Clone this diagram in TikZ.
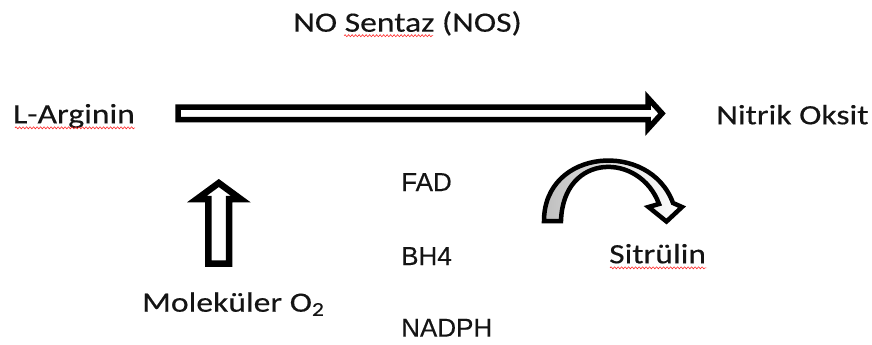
\documentclass[tikz,border=0pt]{standalone}
\usepackage{fontspec}
\newfontfamily\calfont[FakeStretch=1.2,FakeBold=0.35]{Carlito}
\newfontfamily\arfont[FakeBold=0.2]{Liberation Sans}
\usetikzlibrary{calc,decorations.pathmorphing}
\begin{document}
\begin{tikzpicture}[x=1pt,y=-1pt,
 lbl/.style={anchor=base west, inner sep=0pt, text=black!92, font=\calfont\fontsize{28}{32}\selectfont},
 cof/.style={anchor=base west, inner sep=0pt, text=black!92, font=\arfont\fontsize{26}{30}\selectfont},
 spell/.style={draw=red!85, line width=0.6pt, decorate, decoration={snake, amplitude=1pt, segment length=3.5pt}},
 blockarrow/.style={draw=black, fill=white, line join=miter, miter limit=10}]
\useasboundingbox (0,0) rectangle (872,345);

% texts
\node[lbl] (nos) at (293,31.7) {NO Sentaz (NOS)};
\node[lbl] (arg) at (13,123.3) {L-Arginin};
\node[lbl] (no) at (716,124.3) {Nitrik Oksit};
\node[cof] (fad) at (401,191) {FAD};
\node[cof] (bh4) at (401,265) {BH4};
\node[cof] (nadph) at (401,336.7) {NADPH};
\node[lbl] (o2) at (142,311.7) {Moleküler O\textsubscript{2}};
\node[lbl] (cit) at (609,263.3) {Sitrülin};

% spell-check underlines
\draw[spell] ($(nos.base west)+(51,4)$) -- ($(nos.base west)+(140,4)$);
\draw[spell] ($(arg.base west)+(2,4.5)$) -- ($(arg.base east)+(0,4.5)$);
\draw[spell] ($(cit.base west)+(1,4.5)$) -- ($(cit.base east)+(0,4.5)$);

% main block arrow
\draw[blockarrow, line width=5.5pt]
  (178,107.2) -- (648,107.2) -- (648,98) -- (662,113.4) -- (648,128.8)
  -- (648,119.6) -- (178,119.6) -- cycle;

% up arrow (O2)
\draw[blockarrow, line width=6.5pt]
  (208.4,263.5) -- (208.4,199) -- (197,199) -- (218.8,183) -- (240.6,199)
  -- (229.2,199) -- (229.2,263.5) -- cycle;

% curved arrow
\draw[line width=4.5pt, line join=miter, miter limit=10,
      left color=black!25, middle color=black!4, right color=white]
  (544,221) .. controls (544,148) and (650,140) .. (673,203)
  -- (682,207) -- (666.5,221.5) -- (648.5,207) -- (659,204)
  .. controls (640,152) and (563,152) .. (561,221) -- cycle;
\end{tikzpicture}
\end{document}
